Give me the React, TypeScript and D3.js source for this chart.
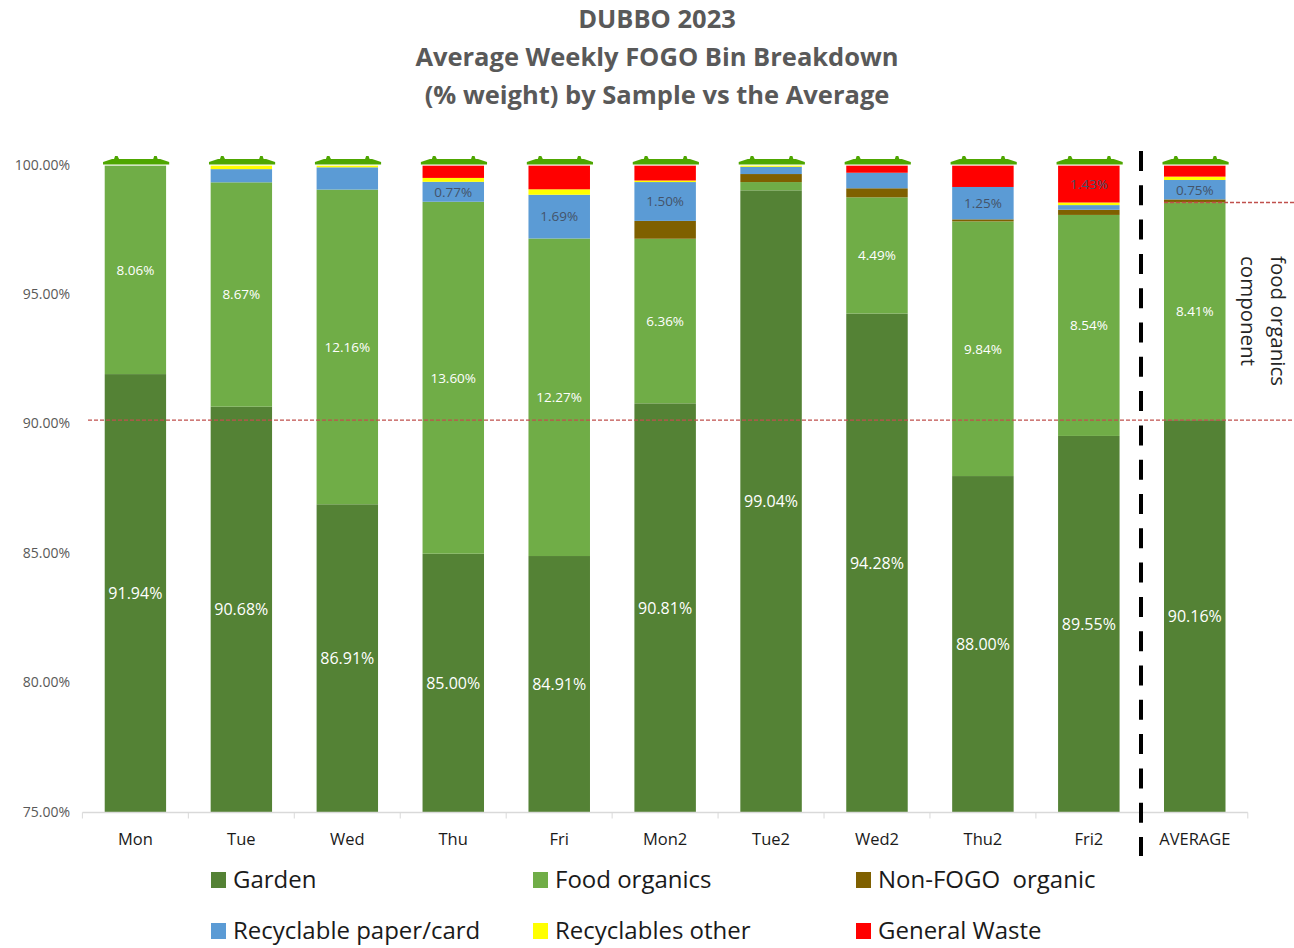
import React from "react";
import * as d3 from "d3";

const categories = ["Mon", "Tue", "Wed", "Thu", "Fri", "Mon2", "Tue2", "Wed2", "Thu2", "Fri2", "AVERAGE"];
const seriesNames = ["Garden", "Food organics", "Non-FOGO  organic", "Recyclable paper/card", "Recyclables other", "General Waste"];
const seriesColors = ["#548235", "#70ad47", "#7f6000", "#5b9bd5", "#ffff00", "#ff0000"];

const garden = [91.94, 90.68, 86.91, 85.0, 84.91, 90.81, 99.04, 94.28, 88.0, 89.55, 90.16];
const food = [8.06, 8.67, 12.16, 13.6, 12.27, 6.36, 0.32, 4.49, 9.84, 8.54, 8.41];
const nonFogo = [0, 0, 0, 0, 0, 0.69, 0.31, 0.35, 0.08, 0.2, 0.12];
const paper = [0, 0.51, 0.86, 0.77, 1.69, 1.5, 0.28, 0.6, 1.25, 0.18, 0.75];
const recyclablesOther = [0, 0.14, 0.07, 0.15, 0.21, 0.06, 0.05, 0, 0, 0.1, 0.13];
const generalWaste = [0, 0, 0, 0.48, 0.92, 0.58, 0, 0.28, 0.83, 1.43, 0.43];
const allSeries = [garden, food, nonFogo, paper, recyclablesOther, generalWaste];

const yTicks = [75, 80, 85, 90, 95, 100];
const titleLines = ["DUBBO 2023", "Average Weekly FOGO Bin Breakdown", "(% weight) by Sample vs the Average"];
const averageGarden = 90.16;
const averageOrganics = 98.57;

// Which series carries a printed value in each column, by series index
const labelled: Record<number, number[]> = {
  0: [0, 1, 2, 3, 4, 5, 6, 7, 8, 9, 10],
  1: [0, 1, 2, 3, 4, 5, 7, 8, 9, 10],
  3: [3, 4, 5, 8, 10],
  5: [9],
};

const FONT = "'Open Sans', 'Noto Sans', sans-serif";
const fmt = (v: number) => v.toFixed(2) + "%";

export default function App() {
  const x = d3.scaleBand<string>().domain(categories).range([82.4, 1247.8]).paddingInner(0.418).paddingOuter(0.209);
  const y = d3.scaleLinear().domain([75, 100]).range([812.5, 165.5]);
  const bw = x.bandwidth();

  const rows = categories.map((c, i) => {
    const r: Record<string, number | string> = { c };
    seriesNames.forEach((s, k) => (r[s] = allSeries[k][i]));
    return r;
  });
  const stacked = d3.stack<Record<string, number | string>>().keys(seriesNames)(rows as any);

  const step = x.step();
  const ticksX = d3.range(categories.length + 1).map((i) => x.range()[0] + i * step);

  // Bars start at the axis floor, since the value axis does not reach zero
  const floor = y.domain()[0];

  // Bin lid: a flat slab with two hinge bumps, slightly wider than the bar
  const lidPath = (left: number) => {
    const p = d3.path();
    const right = left + bw;
    const top = y(100);
    const l = left - 1.5;
    const r = right + 3;
    p.moveTo(l, top - 1);
    p.lineTo(r, top - 1);
    p.lineTo(r, top - 3.5);
    p.lineTo(r - 9, top - 6.5);
    p.lineTo(r - 11.5, top - 6.5);
    p.lineTo(r - 12.5, top - 9.5);
    p.lineTo(r - 15, top - 9.5);
    p.lineTo(r - 16, top - 6.5);
    p.lineTo(l + 16, top - 6.5);
    p.lineTo(l + 14.5, top - 9.5);
    p.lineTo(l + 12, top - 9.5);
    p.lineTo(l + 11, top - 6.5);
    p.lineTo(l + 9, top - 6.5);
    p.lineTo(l, top - 3.5);
    p.closePath();
    return p.toString();
  };

  const legendX = [211, 533, 856];
  const legendY = [880, 931];

  return (
    <svg
      width={1294}
      height={948}
      style={{ position: "absolute", left: 0, top: 0, background: "#fff", fontFamily: FONT }}
    >
      {titleLines.map((t, i) => (
        <text key={t} x={657} y={28 + i * 38} textAnchor="middle" fontSize={25.5} fontWeight={700} fill="#595959">
          {t}
        </text>
      ))}

      {yTicks.map((t) => (
        <text key={t} x={70} y={y(t) + 4} textAnchor="end" fontSize={14} fill="#595959">
          {fmt(t)}
        </text>
      ))}

      {stacked.map((layer, k) => (
        <g key={layer.key}>
          {layer.map((d, i) => {
            if (d[1] - d[0] <= 0) return null;
            const base = Math.max(d[0], floor);
            return (
              <rect
                key={i}
                x={x(categories[i])}
                y={y(d[1])}
                width={bw}
                height={y(base) - y(d[1])}
                fill={seriesColors[k]}
              />
            );
          })}
        </g>
      ))}

      {/* Column outlines, the pale edge around each stacked bar */}
      {categories.map((c) => (
        <rect key={c} x={x(c)! - 0.5} y={y(100) - 0.5} width={bw + 1} height={y(75) - y(100) + 1} fill="none" stroke="#fff" strokeOpacity={0.7} />
      ))}

      {/* Wheelie-bin lids on top of the bars */}
      {categories.map((c) => (
        <path key={c} d={lidPath(x(c)!)} fill="#4ea600" />
      ))}

      <line x1={x.range()[0]} x2={x.range()[1]} y1={y(75)} y2={y(75)} stroke="#d9d9d9" strokeWidth={1.5} />
      {ticksX.map((tx, i) => (
        <line key={i} x1={tx} x2={tx} y1={y(75)} y2={y(75) + 6} stroke="#d9d9d9" />
      ))}
      {categories.map((c) => (
        <text key={c} x={x(c)! + bw / 2} y={845} textAnchor="middle" fontSize={16.5} fill="#1a1a1a">
          {c}
        </text>
      ))}

      {Object.entries(labelled).flatMap(([ks, cols]) => {
        const k = +ks;
        return cols.map((i) => {
          const d = stacked[k][i];
          const mid = (Math.max(d[0], floor) + d[1]) / 2;
          const size = k === 0 ? 16 : 13.5;
          const fill = k < 2 ? "#fff" : "#44546a";
          return (
            <text key={`${k}-${i}`} x={x(categories[i])! + bw / 2} y={y(mid) + size * 0.36} textAnchor="middle" fontSize={size} fill={fill}>
              {fmt(allSeries[k][i])}
            </text>
          );
        });
      })}

      <line x1={88} x2={1294} y1={y(averageGarden)} y2={y(averageGarden)} stroke="#c0504d" strokeWidth={1.3} strokeDasharray="4 2" />
      <line x1={x("AVERAGE")!} x2={1294} y1={y(averageOrganics)} y2={y(averageOrganics)} stroke="#c0504d" strokeWidth={1.3} strokeDasharray="4 2" />

      <line x1={1141} x2={1141} y1={151} y2={856} stroke="#000" strokeWidth={4} strokeDasharray="20 14.3" />

      <g transform="translate(1271,256) rotate(90)">
        <text fontSize={20.5} fill="#262626">food organics</text>
        <text y={30} fontSize={20.5} fill="#262626">component</text>
      </g>

      {seriesNames.map((s, k) => {
        const col = k % 3;
        const row = Math.floor(k / 3);
        return (
          <g key={s}>
            <rect x={legendX[col]} y={legendY[row] - 8} width={15} height={16} fill={seriesColors[k]} />
            <text x={legendX[col] + 22} y={legendY[row] + 8} fontSize={24} fill="#1a1a1a" style={{ whiteSpace: "pre" }}>
              {s}
            </text>
          </g>
        );
      })}
    </svg>
  );
}
